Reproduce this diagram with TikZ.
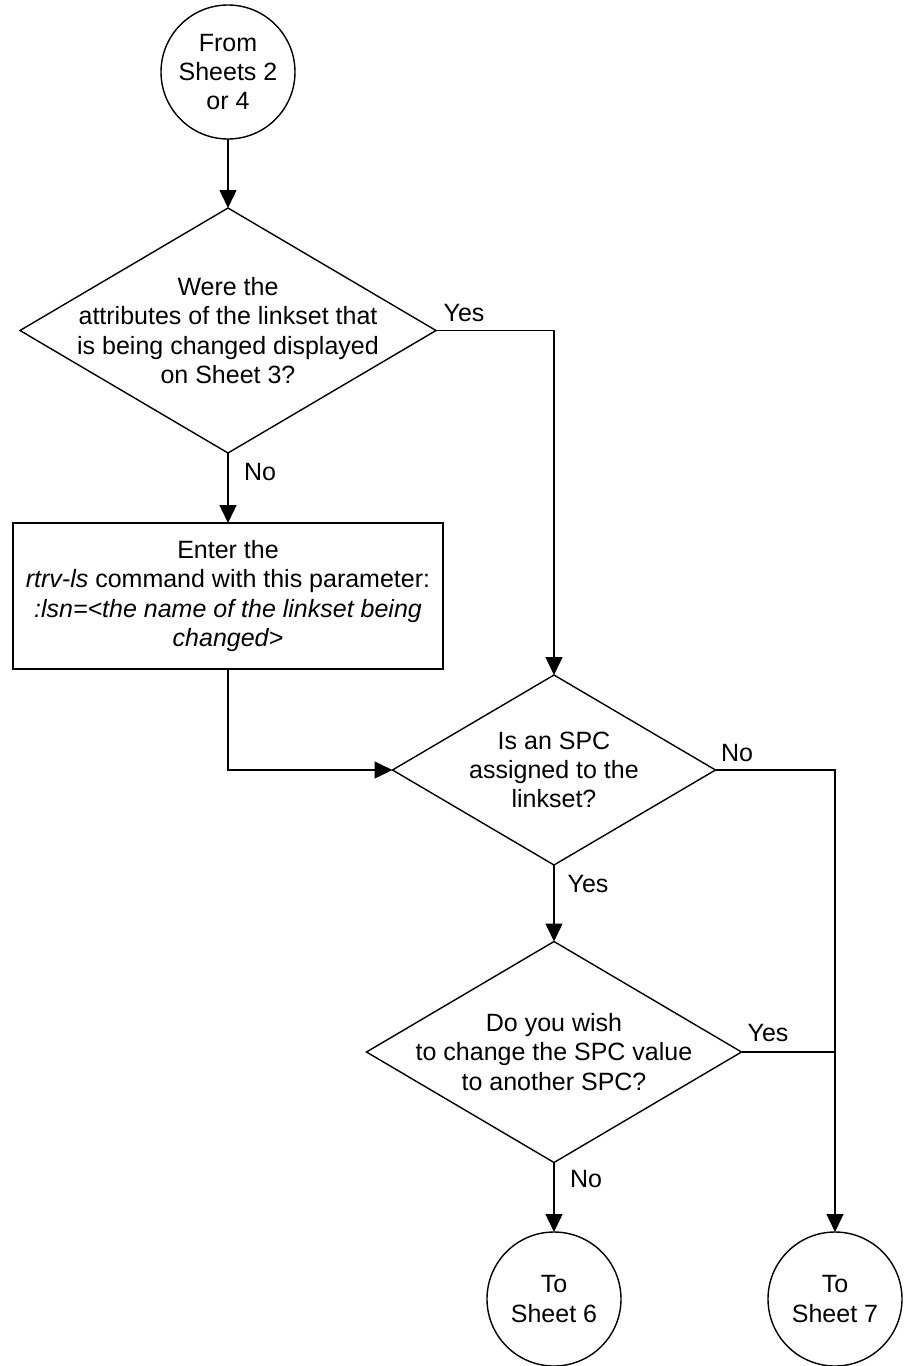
\documentclass[tikz,border=0pt]{standalone}
\usepackage{fontspec}
\setmainfont{Liberation Sans}
\usetikzlibrary{shapes.geometric,arrows.meta}
\begin{document}
\begin{tikzpicture}[x=1pt,y=-1pt,
  line width=1.4pt,
  >={Triangle[length=18pt,width=17pt]},
  every node/.style={font=\fontsize{25}{29.3}\selectfont},
  conn/.style={draw, circle, minimum size=134pt, inner sep=0pt, outer sep=0pt, align=center},
  dec/.style={draw, diamond, inner sep=0pt, outer sep=0pt},
  txt/.style={align=center, inner sep=0pt},
  stepbox/.style={draw, minimum width=430pt, minimum height=146pt, inner sep=0pt, outer sep=0pt, align=center},
  lbl/.style={inner sep=0pt}]
\useasboundingbox (0,0) rectangle (910,1366);

\node[conn] (start) at (228,72) {From\\Sheets 2\\or 4};

\node[dec, minimum width=416pt, minimum height=245pt] (d1) at (228,330.5) {};
\node[txt] (d1t) at (d1.center) {Were the\\attributes of the linkset that\\is being changed displayed\\on Sheet 3?};

\node[stepbox] (box) at (228,596) {Enter the\\\textit{rtrv-ls} command with this parameter:\\\textit{:lsn=<the name of the linkset being}\\\textit{changed>}};

\node[dec, minimum width=323pt, minimum height=190pt] (d2) at (554,770) {};
\node[txt] (d2t) at (d2.center) {Is an SPC\\assigned to the\\linkset?};

\node[dec, minimum width=375pt, minimum height=221pt] (d3) at (554,1052) {};
\node[txt] (d3t) at (d3.center) {Do you wish\\to change the SPC value\\to another SPC?};

\node[conn] (c6) at (554,1299) {To\\Sheet 6};
\node[conn] (c7) at (835,1299) {To\\Sheet 7};

\draw[->] (start.south) -- (d1.north);
\draw[->] (d1.south) -- (box.north);
\draw[->] (d1.east) -| (d2.north);
\draw[->] (box.south) |- (d2.west);
\draw[->] (d2.east) -| (c7.north);
\draw[->] (d2.south) -- (d3.north);
\draw (d3.east) -- (d3.east -| c7.north);
\draw[->] (d3.south) -- (c6.north);

\node[lbl] (l1) at (464,313) {Yes};
\node[lbl] (l2) at (260,472) {No};
\node[lbl] (l3) at (737,753) {No};
\node[lbl] (l4) at (588,884) {Yes};
\node[lbl] (l5) at (768,1033) {Yes};
\node[lbl] (l6) at (586,1179) {No};
\end{tikzpicture}
\end{document}
